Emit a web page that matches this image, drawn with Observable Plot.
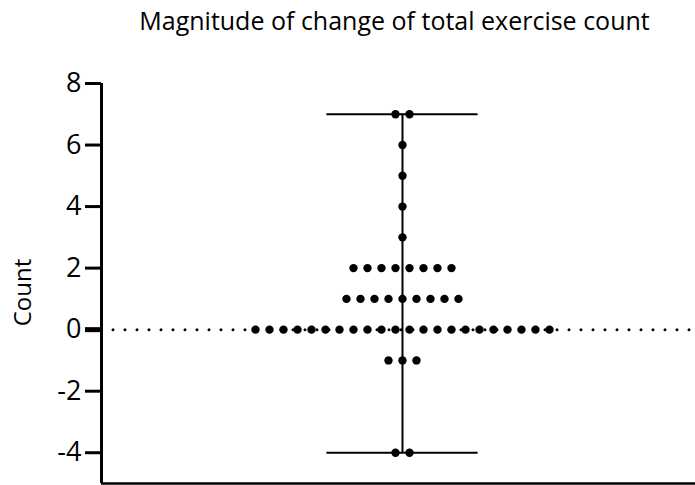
<!DOCTYPE html>
<html>
<head>
<meta charset="utf-8">
<script src="https://cdn.jsdelivr.net/npm/d3@7"></script>
<script src="https://cdn.jsdelivr.net/npm/@observablehq/plot@0.6"></script>
<style>
  html, body { margin: 0; padding: 0; background: #fff; }
  #chart svg { display: block; }
</style>
</head>
<body>
<div id="chart"></div>
<script>
// Data
const values = [7, 6, 5, 4, 3, 2, 1, 0, -1, -4];
const counts = [2, 1, 1, 1, 1, 8, 9, 22, 3, 2];
const yTicks = [-4, -2, 0, 2, 4, 6, 8];
const titleText = "Magnitude of change of total exercise count";
const yLabel = "Count";

// Scatter (column) layout: dots in each row spread symmetrically
const points = values.flatMap((v, i) =>
  d3.range(counts[i]).map(j => ({ y: v, x: j - (counts[i] - 1) / 2 }))
);
const [minV, maxV] = d3.extent(points, d => d.y);
const capHalf = 5.4;
const xDomain = [-21.5, 20.93];
const yDomain = [-5, 8];
const font = "'Open Sans', sans-serif";

const chart = Plot.plot({
  width: 695,
  height: 485,
  marginLeft: 101,
  marginRight: 0,
  marginTop: 83,
  marginBottom: 2,
  style: { fontFamily: font, color: "#000", background: "#fff" },
  x: { domain: xDomain, axis: null },
  y: { domain: yDomain, axis: null },
  marks: [
    // dotted zero line
    Plot.ruleY([0], { stroke: "#000", strokeWidth: 3, strokeDasharray: "0 12", strokeLinecap: "round" }),
    // range bar
    Plot.ruleX([0], { y1: minV, y2: maxV, stroke: "#000", strokeWidth: 2 }),
    Plot.ruleY([minV, maxV], { x1: -capHalf, x2: capHalf, stroke: "#000", strokeWidth: 2 }),
    // dots
    Plot.dot(points, { x: "x", y: "y", r: 4.2, fill: "#000", stroke: null }),
    // axes
    Plot.axisY({ ticks: yTicks, tickFormat: d => String(d), tickSize: 16, tickPadding: 4, fontSize: 27, strokeWidth: 3, label: null }),
    Plot.axisY({ ticks: [0], tickSize: 16, strokeWidth: 5, text: null, label: null }),
    Plot.ruleX([xDomain[0]], { y1: yDomain[0], y2: yDomain[1], stroke: "#000", strokeWidth: 3 }),
    Plot.ruleY([yDomain[0]], { stroke: "#000", strokeWidth: 2.5 }),
    // y label
    Plot.text([yLabel], { frameAnchor: "left", textAnchor: "middle", lineAnchor: "middle", dx: -78, dy: 9, rotate: -90, fontSize: 24, fill: "#000" }),
    // title
    Plot.text([titleText], { frameAnchor: "top", lineAnchor: "middle", dx: -4, dy: -62, fontSize: 25, fill: "#000" })
  ]
});
document.getElementById("chart").appendChild(chart);
</script>
</body>
</html>
